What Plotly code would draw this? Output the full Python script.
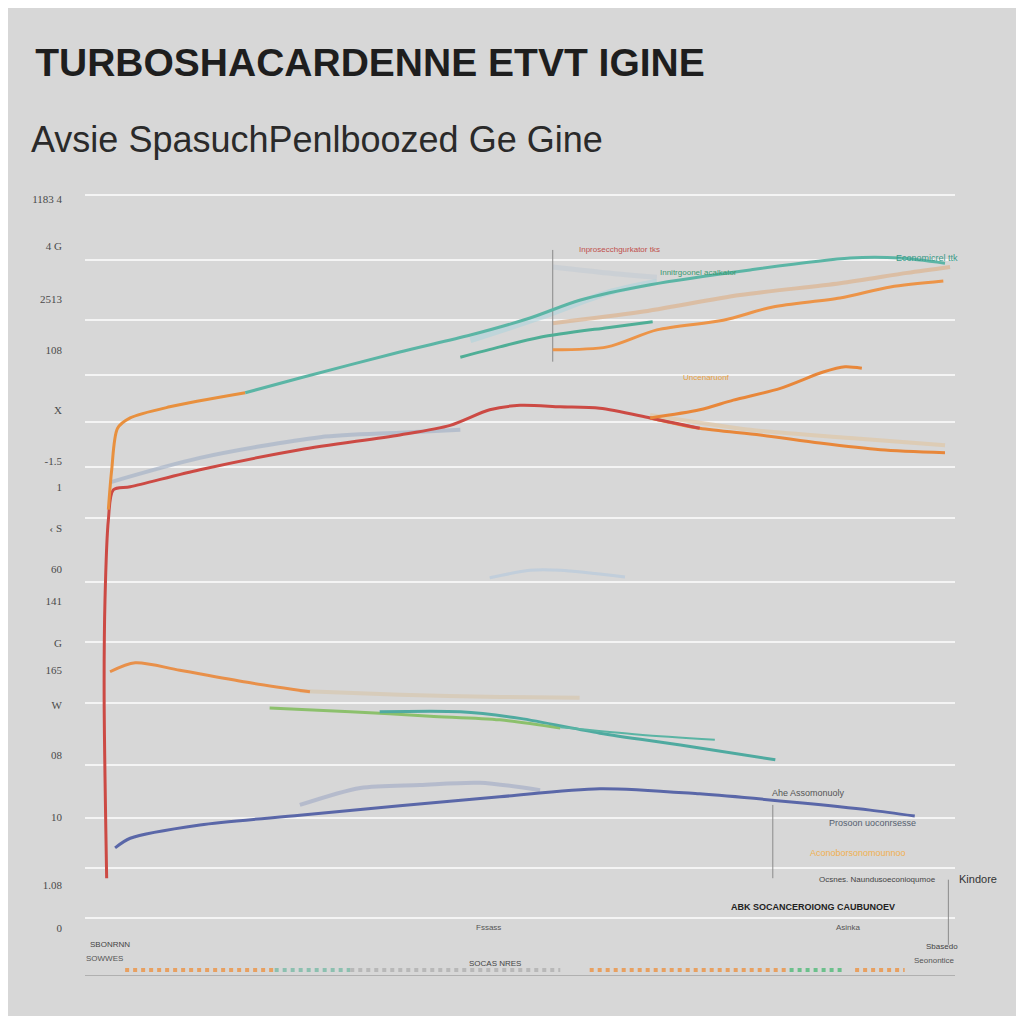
import plotly.graph_objects as go

# eixo x: 0..100 (regime), eixo y: 0..100 (escala relativa)
red_x = [0.2, -0.1, 0.0, 0.4, 1.0, 3.0, 11.3, 23.2, 35.1, 41.1, 45.8, 49.4, 54.2, 58.9, 64.9, 70.8]
red_y = [7.0, 31.1, 44.6, 55.4, 59.5, 59.9, 62.2, 64.9, 66.9, 68.2, 70.3, 70.9, 70.7, 70.5, 69.2, 67.8]

orange_tail_x = [64.9, 70.8, 78.0, 85.1, 92.3, 100.0]
orange_tail_y = [69.2, 67.8, 66.9, 65.8, 64.9, 64.5]

beige_tail_x = [64.9, 76.8, 88.7, 100.0]
beige_tail_y = [69.6, 67.6, 66.5, 65.5]

greyblue_x = [0.6, 11.3, 25.6, 35.1, 42.3]
greyblue_y = [60.5, 63.8, 66.6, 67.2, 67.6]

orange_rise_x = [0.4, 0.8, 1.5, 3.0, 7.7, 16.7]
orange_rise_y = [56.8, 62.2, 67.8, 69.2, 70.7, 72.6]

teal_top_x = [16.7, 23.2, 35.1, 43.5, 50.6, 56.5, 64.9, 76.8, 88.7, 94.6, 100.0]
teal_top_y = [72.6, 74.6, 78.1, 80.4, 82.7, 85.1, 87.2, 89.2, 90.8, 90.8, 90.1]

orange_up_x = [53.3, 59.8, 65.7, 73.6, 79.5, 87.5, 93.5, 99.8]
orange_up_y = [78.4, 78.8, 81.1, 82.4, 84.2, 85.4, 86.9, 87.7]

beige_up_x = [53.3, 63.7, 75.6, 87.5, 95.5, 100.6]
beige_up_y = [82.0, 83.5, 85.8, 87.4, 88.8, 89.6]

teal_short_x = [42.3, 47.0, 51.8, 59.8, 65.2]
teal_short_y = [77.4, 78.8, 80.1, 81.4, 82.2]

lightblue_x = [43.5, 51.8, 59.8, 65.7]
lightblue_y = [79.7, 82.8, 86.1, 87.6]

grey_top_x = [53.3, 58.9, 65.7]
grey_top_y = [89.6, 88.9, 88.2]

orange_mid_x = [64.9, 70.8, 74.8, 80.4, 85.5, 88.1, 90.1]
orange_mid_y = [69.2, 70.3, 71.6, 73.2, 75.4, 76.1, 75.9]

faint_mid_x = [45.8, 50.6, 54.2, 61.9]
faint_mid_y = [47.6, 48.6, 48.6, 47.7]

orange_low_x = [0.6, 3.6, 8.9, 17.3, 24.4]
orange_low_y = [34.9, 36.1, 35.1, 33.4, 32.2]

beige_low_x = [23.2, 35.1, 47.0, 56.5]
beige_low_y = [32.3, 31.8, 31.5, 31.4]

green_x = [19.6, 29.2, 38.7, 47.0, 54.2]
green_y = [30.0, 29.5, 28.9, 28.4, 27.3]

teal_low_x = [32.7, 42.3, 49.4, 58.9, 68.5, 79.8]
teal_low_y = [29.5, 29.5, 28.6, 26.6, 25.0, 23.0]

teal_low2_x = [54.2, 63.7, 72.6]
teal_low2_y = [27.4, 26.4, 25.7]

blue_x = [1.2, 3.0, 11.3, 23.2, 35.1, 47.0, 58.9, 70.8, 82.7, 91.1, 96.4]
blue_y = [11.1, 12.4, 14.2, 15.5, 16.8, 18.0, 19.1, 18.4, 17.2, 16.2, 15.4]

blue_faded_x = [23.2, 30.4, 37.5, 44.6, 51.8]
blue_faded_y = [16.9, 19.2, 19.6, 19.9, 18.9]

marker_lines = [
    ([53.3, 53.3], [91.9, 76.8]),
    ([79.5, 79.5], [16.9, 7.0]),
    ([100.4, 100.4], [6.8, -2.0]),
]

# faixa colorida junto ao eixo x
strip_segments = [
    ([2.4, 20.2], '#e8a060'),
    ([20.2, 29.2], '#8cc0b0'),
    ([29.2, 54.2], '#b8b8b8'),
    ([57.7, 81.5], '#e8a060'),
    ([81.5, 88.1], '#6cc08c'),
    ([89.3, 95.2], '#e8a060'),
]

grid_vals = [99.3, 90.5, 82.4, 75.0, 68.6, 62.6, 55.7, 47.0, 38.9, 30.7, 22.3, 15.1, 8.4, 1.6]
tick_vals = [98.8, 92.4, 85.3, 78.4, 70.3, 63.4, 59.9, 54.3, 48.8, 44.5, 38.8, 35.1, 30.4, 23.6, 15.3, 6.1, 0.3]
tick_text = ['1183 4', '4 G', '2513', '108', 'X', '-1.5', '1', '‹ S', '60', '141', 'G', '165', 'W', '08', '10', '1.08', '0']

notes = [
    (97.9, 90.8, 'Economicrel ttk', '#3a9a88', 9),
    (61.2, 91.9, 'Inprosecchgurkator tks', '#c0504d', 8),
    (70.6, 88.9, 'Innitrgoonel acalkator', '#3a9a70', 8),
    (71.6, 74.6, 'Uncenaruonf', '#e8a040', 8),
    (83.7, 18.5, 'Ahe Assomonuoly', '#555555', 9),
    (91.4, 14.5, 'Prosoon uoconrsesse', '#556070', 9),
    (89.6, 10.4, 'Aconoborsonomounnoo', '#f0b050', 9),
    (92.0, 6.8, 'Ocsnes. Naundusoeconioqumoe', '#444444', 8),
    (84.3, 3.1, '<b>ABK SOCANCEROIONG CAUBUNOEV</b>', '#222222', 9),
    (88.5, 0.3, 'Asinka', '#555555', 8),
    (45.6, 0.3, 'Fssass', '#555555', 8),
    (0.6, -2.0, 'SBONRNN', '#444444', 8),
    (0.0, -3.8, 'SOWWES', '#555555', 8),
    (46.4, -4.5, 'SOCAS NRES', '#444444', 8),
    (25.0, -7.3, 'Uoss', '#555555', 8),
    (41.7, -7.3, 'U AC I MIIRT t Sonbaliastne esnus', '#444444', 8),
    (99.6, -2.2, 'Sbasedo', '#444444', 8),
    (98.8, -4.1, 'Seonontice', '#555555', 8),
    (88.1, -7.3, 'Sigos', '#555555', 8),
]


def linha(fig, x, y, cor, largura=3, opacidade=1.0):
    fig.add_trace(go.Scatter(
        x=x, y=y, mode='lines',
        line=dict(color=cor, width=largura, shape='spline', smoothing=0.8),
        opacity=opacidade, showlegend=False, hoverinfo='skip'
    ))


def grafico_turbo():
    fig = go.Figure()

    # linhas esmaecidas primeiro
    linha(fig, greyblue_x, greyblue_y, '#a8b4c8', 4, 0.7)
    linha(fig, beige_tail_x, beige_tail_y, '#e0c8a8', 4, 0.7)
    linha(fig, lightblue_x, lightblue_y, '#b0d4dc', 6, 0.6)
    linha(fig, grey_top_x, grey_top_y, '#c4ccd4', 5, 0.6)
    linha(fig, beige_up_x, beige_up_y, '#dcb898', 4, 0.8)
    linha(fig, faint_mid_x, faint_mid_y, '#bcccdc', 3, 0.8)
    linha(fig, beige_low_x, beige_low_y, '#d8c8b0', 4, 0.7)
    linha(fig, blue_faded_x, blue_faded_y, '#a8b0c8', 4, 0.7)

    for xs, ys in marker_lines:
        fig.add_trace(go.Scatter(x=xs, y=ys, mode='lines',
                                 line=dict(color='#8a8a8a', width=1),
                                 showlegend=False, hoverinfo='skip'))

    linha(fig, orange_tail_x, orange_tail_y, '#e8873a')
    linha(fig, red_x, red_y, '#cc4a44')
    linha(fig, orange_rise_x, orange_rise_y, '#e8903e')
    linha(fig, teal_top_x, teal_top_y, '#5bb5a5')
    linha(fig, orange_up_x, orange_up_y, '#ec9448')
    linha(fig, teal_short_x, teal_short_y, '#4fae96')
    linha(fig, orange_mid_x, orange_mid_y, '#e8873a')
    linha(fig, orange_low_x, orange_low_y, '#e8904a')
    linha(fig, green_x, green_y, '#8cc06c')
    linha(fig, teal_low_x, teal_low_y, '#4faaa0')
    linha(fig, teal_low2_x, teal_low2_y, '#5ab4a4', 2)
    linha(fig, blue_x, blue_y, '#5a67a8')

    for xs, cor in strip_segments:
        fig.add_trace(go.Scatter(x=xs, y=[-5.4, -5.4], mode='lines',
                                 line=dict(color=cor, width=4, dash='dot'),
                                 showlegend=False, hoverinfo='skip'))

    # traco vazio so para o eixo dos rotulos aparecer
    fig.add_trace(go.Scatter(x=[], y=[], yaxis='y2', showlegend=False, hoverinfo='skip'))

    for x, y, txt, cor, tam in notes:
        fig.add_annotation(x=x, y=y, text=txt, showarrow=False,
                           font=dict(size=tam, color=cor, family='Liberation Sans Narrow, Liberation Sans'))

    # fora da area do grafico, por isso em coordenadas de papel
    fig.add_annotation(x=1.002, y=0.122, xref='paper', yref='paper',
                       xanchor='left', yanchor='middle',
                       text='Kindore', showarrow=False,
                       font=dict(size=11, color='#333333', family='Liberation Sans'))

    fig.add_annotation(
        text='Avsie SpasuchPenlboozed Ge Gine',
        xref='paper', yref='paper', x=-0.064, y=1.064,
        xanchor='left', yanchor='middle', showarrow=False,
        font=dict(size=36, color='#2a2a2a', family='Liberation Sans')
    )

    fig.update_layout(
        width=1008, height=1008,
        paper_bgcolor='#d7d7d7',
        plot_bgcolor='#d7d7d7',
        font=dict(color='#444444', family='Liberation Sans'),
        title=dict(
            text='<b>TURBOSHACARDENNE ETVT IGINE</b>',
            xref='container', x=0.027, xanchor='left',
            yref='container', y=0.946, yanchor='middle',
            font=dict(size=39, color='#1e1e1e', family='Liberation Sans')
        ),
        margin=dict(l=77, r=61, t=182, b=41),
        showlegend=False,
    )

    fig.update_xaxes(
        range=[-2.38, 101.19],
        showgrid=False, zeroline=False,
        showticklabels=False,
        showline=True, linecolor='#b0b0b0', linewidth=1,
    )

    fig.update_yaxes(
        range=[-6.08, 100],
        tickvals=grid_vals,
        showticklabels=False,
        showgrid=True, gridcolor='#f4f4f4', gridwidth=1.5,
        zeroline=False,
    )

    fig.update_layout(
        yaxis2=dict(
            overlaying='y', side='left',
            range=[-6.08, 100],
            tickvals=tick_vals, ticktext=tick_text,
            showgrid=False, zeroline=False,
            ticklabelstandoff=22,
            tickfont=dict(size=11, color='#4a4a4a', family='Liberation Serif'),
        )
    )

    return fig


fig = grafico_turbo()
fig.write_html('out.html')
